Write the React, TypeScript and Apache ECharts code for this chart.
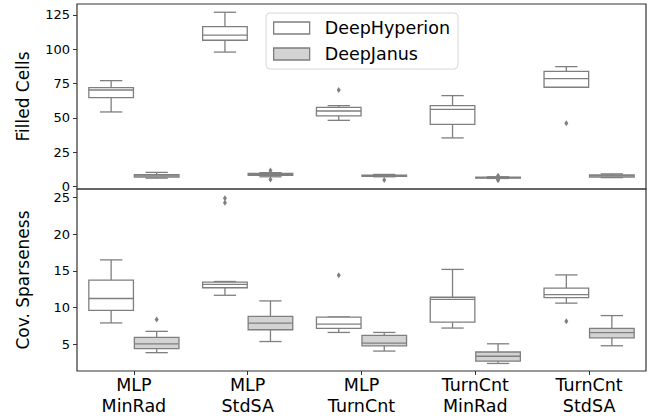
import React, { useEffect, useRef } from "react";
import * as echarts from "echarts";

const categories = ["MLP\nMinRad", "MLP\nStdSA", "MLP\nTurnCnt", "TurnCnt\nMinRad", "TurnCnt\nStdSA"];
const seriesNames = ["DeepHyperion", "DeepJanus"];

// [min, q1, median, q3, max]
const filledDH = [
  [54.4, 64.8, 70.4, 72.1, 77.2],
  [98, 106.6, 110.4, 116.5, 127],
  [48.3, 51.5, 55.1, 57.8, 59],
  [35.5, 45.4, 56.3, 59, 66.3],
  [72.4, 72.4, 78.6, 84, 87.4],
];
const filledDJ = [
  [6.2, 7, 7.8, 8.8, 10.4],
  [7.2, 8.2, 8.9, 9.6, 10.2],
  [7.2, 7.6, 8, 8.4, 8.9],
  [6, 6.3, 6.6, 6.9, 7.2],
  [6.6, 7, 7.8, 8.5, 9.3],
];
// [categoryIndex, value]
const filledDHOut = [[2, 70.4], [4, 46.2]];
const filledDJOut = [[1, 11.8], [1, 5.2], [2, 4.9], [3, 4.6], [3, 5.4], [3, 7.9]];

const sparseDH = [
  [7.9, 9.6, 11.23, 13.73, 16.5],
  [11.67, 12.7, 13.15, 13.46, 13.55],
  [6.6, 7.15, 7.74, 8.7, 8.72],
  [7.2, 8.0, 11.1, 11.4, 15.2],
  [10.6, 11.36, 11.76, 12.65, 14.45],
];
const sparseDJ = [
  [3.84, 4.38, 5.05, 5.94, 6.75],
  [5.36, 6.97, 7.87, 8.8, 10.9],
  [4.06, 4.78, 5.14, 6.2, 6.6],
  [2.37, 2.68, 3.35, 3.93, 5.05],
  [4.78, 5.86, 6.57, 7.15, 8.9],
];
const sparseDHOut = [[1, 24.3], [1, 24.9], [2, 14.4], [4, 8.14]];
const sparseDJOut = [[0, 8.36]];

const filledTicks = [0, 25, 50, 75, 100, 125];
const sparseTicks = [5, 10, 15, 20, 25];

const LINE = "#7f7f7f";
const FILLS = ["#ffffff", "#d3d3d3"];
const FONT = "DejaVu Sans";
const FRAME = "#333333";

function boxRenderer(side: number, fill: string) {
  return (params: any, api: any) => {
    const xi = api.value(0);
    const band = api.size([1, 0])[0];
    const off = side * band * 0.2;
    const w = band * 0.4 * 0.98;
    const pMin = api.coord([xi, api.value(1)]);
    const pQ1 = api.coord([xi, api.value(2)]);
    const pMed = api.coord([xi, api.value(3)]);
    const pQ3 = api.coord([xi, api.value(4)]);
    const pMax = api.coord([xi, api.value(5)]);
    const cx = pMed[0] + off;
    const half = w / 2;
    const cap = w / 4;
    const ls = { stroke: LINE, lineWidth: 1.3 };
    return {
      type: "group",
      children: [
        { type: "line", shape: { x1: cx, y1: pQ3[1], x2: cx, y2: pMax[1] }, style: ls },
        { type: "line", shape: { x1: cx, y1: pQ1[1], x2: cx, y2: pMin[1] }, style: ls },
        { type: "line", shape: { x1: cx - cap, y1: pMax[1], x2: cx + cap, y2: pMax[1] }, style: ls },
        { type: "line", shape: { x1: cx - cap, y1: pMin[1], x2: cx + cap, y2: pMin[1] }, style: ls },
        {
          type: "rect",
          shape: { x: cx - half, y: pQ3[1], width: w, height: Math.max(pQ1[1] - pQ3[1], 0.5) },
          style: { fill, stroke: LINE, lineWidth: 1.3 },
        },
        { type: "line", shape: { x1: cx - half, y1: pMed[1], x2: cx + half, y2: pMed[1] }, style: ls },
      ],
    };
  };
}

function outlierRenderer(side: number) {
  return (params: any, api: any) => {
    const p = api.coord([api.value(0), api.value(1)]);
    const band = api.size([1, 0])[0];
    const cx = p[0] + side * band * 0.2;
    const cy = p[1];
    return {
      type: "polygon",
      shape: { points: [[cx, cy - 3], [cx + 2, cy], [cx, cy + 3], [cx - 2, cy]] },
      style: { fill: LINE },
    };
  };
}

function boxSeries(name: string, side: number, fill: string, data: number[][], axis: number) {
  return {
    type: "custom",
    name,
    xAxisIndex: axis,
    yAxisIndex: axis,
    renderItem: boxRenderer(side, fill),
    encode: { x: 0, y: [1, 2, 3, 4, 5] },
    itemStyle: { color: fill, borderColor: LINE },
    data: data.map((d, i) => [i, ...d]),
    z: 2,
  };
}

function outSeries(name: string, side: number, data: number[][], axis: number) {
  return {
    type: "custom",
    name,
    xAxisIndex: axis,
    yAxisIndex: axis,
    renderItem: outlierRenderer(side),
    encode: { x: 0, y: 1 },
    data,
    z: 3,
  };
}

export default function App() {
  const ref = useRef<HTMLDivElement>(null);
  useEffect(() => {
    if (!ref.current) return;
    const chart = echarts.init(ref.current, undefined, { renderer: "svg" });
    const gridCommon = { left: 77, width: 569, height: 185, show: true, borderColor: FRAME, borderWidth: 1.2, backgroundColor: "transparent" };
    const yCommon = {
      type: "value",
      splitLine: { show: false },
      axisLine: { show: false },
      nameLocation: "middle",
      nameGap: 46,
      nameTextStyle: { fontSize: 17, fontFamily: FONT, color: "#000" },
    };
    chart.setOption({
      animation: false,
      textStyle: { fontFamily: FONT },
      grid: [
        { ...gridCommon, top: 4 },
        { ...gridCommon, top: 189 },
      ],
      legend: {
        orient: "vertical",
        left: 266,
        top: 13,
        data: [
          { name: seriesNames[0], itemStyle: { color: FILLS[0], borderColor: LINE, borderWidth: 1.3 } },
          { name: seriesNames[1], itemStyle: { color: FILLS[1], borderColor: LINE, borderWidth: 1.3 } },
        ],
        icon: "rect",
        itemWidth: 36,
        itemHeight: 12,
        itemGap: 8,
        padding: [6, 8, 6, 7],
        borderColor: "#d6d6d6",
        borderWidth: 1,
        borderRadius: 4,
        backgroundColor: "rgba(255,255,255,0.8)",
        textStyle: { fontSize: 17.5, lineHeight: 18, color: "#000", fontFamily: FONT, padding: [0, 0, 0, 10] },
      },
      xAxis: [
        {
          gridIndex: 0,
          type: "category",
          data: categories,
          axisLine: { show: false },
          axisTick: { show: false },
          axisLabel: { show: false },
        },
        {
          gridIndex: 1,
          type: "category",
          data: categories,
          axisLine: { show: false },
          axisTick: { show: true, alignWithLabel: true, length: 4, lineStyle: { color: FRAME } },
          axisLabel: { fontSize: 17.5, lineHeight: 21, color: "#000", margin: 3, fontFamily: FONT },
        },
      ],
      yAxis: [
        {
          ...yCommon,
          gridIndex: 0,
          min: -1.7,
          max: 133,
          name: "Filled Cells",
          axisTick: { show: true, length: 4, lineStyle: { color: FRAME }, customValues: filledTicks },
          axisLabel: { fontSize: 13, color: "#000", margin: 7, customValues: filledTicks, fontFamily: FONT },
        },
        {
          ...yCommon,
          gridIndex: 1,
          min: 1.34,
          max: 26.17,
          name: "Cov. Sparseness",
          axisTick: { show: true, length: 4, lineStyle: { color: FRAME }, customValues: sparseTicks },
          axisLabel: { fontSize: 13, color: "#000", margin: 7, customValues: sparseTicks, fontFamily: FONT },
        },
      ],
      series: [
        boxSeries(seriesNames[0], -1, FILLS[0], filledDH, 0),
        boxSeries(seriesNames[1], 1, FILLS[1], filledDJ, 0),
        outSeries(seriesNames[0], -1, filledDHOut, 0),
        outSeries(seriesNames[1], 1, filledDJOut, 0),
        boxSeries(seriesNames[0], -1, FILLS[0], sparseDH, 1),
        boxSeries(seriesNames[1], 1, FILLS[1], sparseDJ, 1),
        outSeries(seriesNames[0], -1, sparseDHOut, 1),
        outSeries(seriesNames[1], 1, sparseDJOut, 1),
      ],
    });
    return () => chart.dispose();
  }, []);
  return <div ref={ref} style={{ position: "absolute", left: 0, top: 0, width: 651, height: 416 }} />;
}
